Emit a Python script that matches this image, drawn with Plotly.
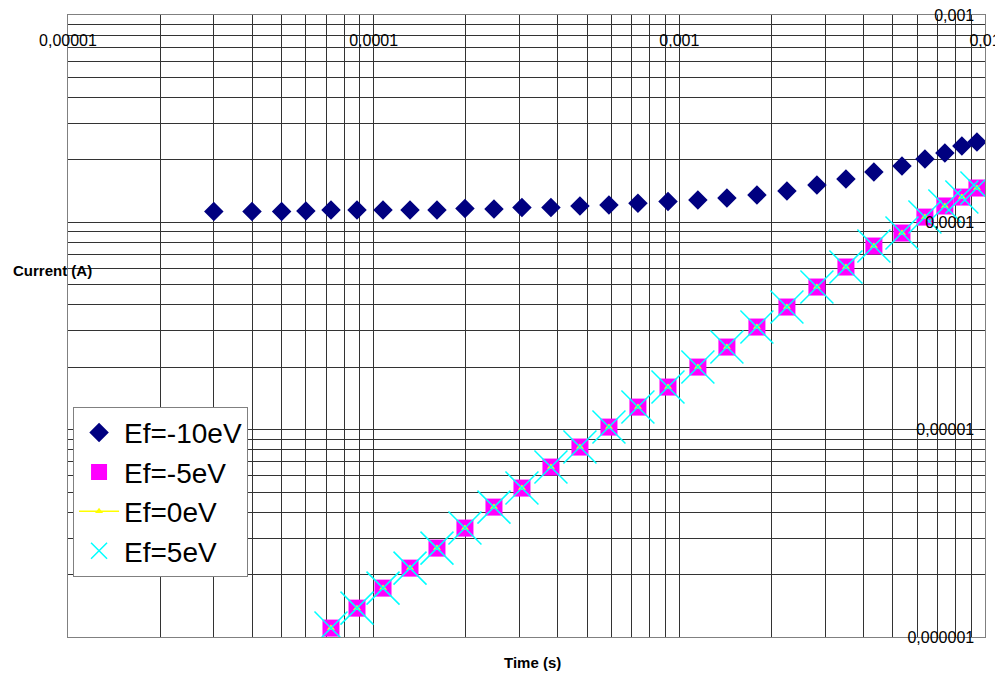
import plotly.graph_objects as go

# ---- data ----
time_s = [3.0e-5, 4.0e-5, 5.0e-5, 6.0e-5, 7.25e-5, 8.82e-5, 1.073e-4, 1.315e-4,
          1.611e-4, 1.989e-4, 2.475e-4, 3.056e-4, 3.802e-4, 4.73e-4, 5.885e-4,
          7.32e-4, 9.18e-4, 1.15e-3, 1.431e-3, 1.794e-3, 2.249e-3, 2.819e-3,
          3.508e-3, 4.33e-3, 5.35e-3, 6.36e-3, 7.39e-3, 8.40e-3, 9.41e-3]

i_ef_m10 = [1.128e-4, 1.128e-4, 1.128e-4, 1.134e-4, 1.146e-4, 1.146e-4, 1.146e-4, 1.146e-4,
            1.146e-4, 1.165e-4, 1.159e-4, 1.180e-4, 1.180e-4, 1.199e-4, 1.213e-4,
            1.237e-4, 1.259e-4, 1.281e-4, 1.310e-4, 1.354e-4, 1.416e-4, 1.513e-4,
            1.620e-4, 1.748e-4, 1.869e-4, 2.020e-4, 2.159e-4, 2.334e-4, 2.440e-4]

time_s2 = time_s[4:]

i_ef_m5 = [1.104e-6, 1.378e-6, 1.721e-6, 2.149e-6, 2.684e-6, 3.352e-6, 4.232e-6,
           5.228e-6, 6.601e-6, 8.244e-6, 1.029e-5, 1.285e-5, 1.605e-5, 2.004e-5,
           2.503e-5, 3.126e-5, 3.904e-5, 4.875e-5, 6.088e-5, 7.685e-5, 8.88e-5,
           1.060e-4, 1.199e-4, 1.324e-4, 1.464e-4]
i_ef_0 = [1.104e-6, 1.378e-6, 1.721e-6, 2.149e-6, 2.684e-6, 3.352e-6, 4.232e-6,
          5.228e-6, 6.601e-6, 8.244e-6, 1.029e-5, 1.285e-5, 1.605e-5, 2.004e-5,
          2.503e-5, 3.126e-5, 3.904e-5, 4.875e-5, 6.088e-5, 7.685e-5, 8.88e-5,
          1.060e-4, 1.199e-4, 1.324e-4, 1.464e-4]
i_ef_5 = [1.104e-6, 1.378e-6, 1.721e-6, 2.149e-6, 2.684e-6, 3.352e-6, 4.232e-6,
          5.228e-6, 6.601e-6, 8.244e-6, 1.029e-5, 1.285e-5, 1.605e-5, 2.004e-5,
          2.503e-5, 3.126e-5, 3.904e-5, 4.875e-5, 6.088e-5, 7.685e-5, 8.88e-5,
          1.060e-4, 1.199e-4, 1.324e-4, 1.464e-4]

x_tickvals = [1e-5, 1e-4, 1e-3, 1e-2]
x_ticktext = ["0,00001", "0,0001", "0,001", "0,01"]
y_tickvals = [1e-6, 1e-5, 1e-4, 1e-3]
y_ticktext = ["0,000001", "0,00001", "0,0001", "0,001"]

series_names = ["Ef=-10eV", "Ef=-5eV", "Ef=0eV", "Ef=5eV"]

FONT = "Liberation Sans, Arial, sans-serif"
GRID = "#333333"

x_minor = [k * 10.0 ** e for e in range(-5, -2) for k in range(2, 10)]
y_minor = [k * 10.0 ** e for e in range(-6, -3) for k in range(2, 10)]

fig = go.Figure()
fig.add_trace(go.Scatter(x=time_s, y=i_ef_m10, mode="markers", name=series_names[0],
                         marker=dict(symbol="diamond", size=15, color="#000080")))
fig.add_trace(go.Scatter(x=time_s2, y=i_ef_m5, mode="markers", name=series_names[1],
                         marker=dict(symbol="square", size=17, color="#FF00FF")))
fig.add_trace(go.Scatter(x=time_s2, y=i_ef_0, mode="markers", name=series_names[2],
                         legendgroup="ef0", showlegend=False,
                         marker=dict(symbol="triangle-up", size=7, color="#FFFF00")))
# legend entry for Ef=0eV (line + marker, as in the reference legend)
fig.add_trace(go.Scatter(x=[None], y=[None], mode="lines+markers", name=series_names[2],
                         legendgroup="ef0",
                         line=dict(color="#FFFF00", width=1.5),
                         marker=dict(symbol="triangle-up", size=7, color="#FFFF00")))
fig.add_trace(go.Scatter(x=time_s2, y=i_ef_5, mode="markers", name=series_names[3],
                         marker=dict(symbol="x-thin", size=33,
                                     line=dict(color="#00FFFF", width=1.5))))

fig.update_xaxes(type="log", range=[-5, -2], side="top", automargin=False,
                 tickmode="array", tickvals=x_tickvals, ticktext=x_ticktext,
                 ticklabelposition="inside", ticklabelstandoff=20, ticklabeloverflow="allow",
                 ticks="", showgrid=True, gridcolor=GRID, gridwidth=1,
                 showline=True, linecolor="#808080", linewidth=1, mirror=True,
                 zeroline=False,
                 minor=dict(tickmode="array", tickvals=x_minor, showgrid=True,
                            gridcolor=GRID, gridwidth=1, ticks=""),
                 tickfont=dict(family=FONT, size=16, color="#000000"))
fig.update_yaxes(type="log", range=[-6, -3], side="right", automargin=False,
                 tickmode="array", tickvals=y_tickvals, ticktext=y_ticktext,
                 ticklabelposition="inside", ticklabelstandoff=6, ticklabeloverflow="allow",
                 ticks="inside", ticklen=5, tickcolor="#000000",
                 showgrid=True, gridcolor=GRID, gridwidth=1,
                 showline=True, linecolor="#808080", linewidth=1, mirror=True,
                 zeroline=False,
                 minor=dict(tickmode="array", tickvals=y_minor, showgrid=True,
                            gridcolor=GRID, gridwidth=1, ticks=""),
                 tickfont=dict(family=FONT, size=16, color="#000000"))

fig.add_annotation(text="<b>Current (A)</b>", xref="paper", yref="paper",
                   x=-0.0174, y=0.59, xanchor="center", yanchor="middle", showarrow=False,
                   font=dict(family=FONT, size=15, color="#000000"))
fig.add_annotation(text="<b>Time (s)</b>", xref="paper", yref="paper",
                   x=0.506, y=-0.0418, xanchor="center", yanchor="middle", showarrow=False,
                   font=dict(family=FONT, size=15, color="#000000"))

fig.update_layout(
    width=995, height=669,
    margin=dict(l=60, r=18, t=7, b=40, autoexpand=False),
    paper_bgcolor="#FFFFFF", plot_bgcolor="#FFFFFF",
    font=dict(family=FONT, color="#000000"),
    legend=dict(x=0.0055, y=0.37, xanchor="left", yanchor="top",
                bgcolor="#FFFFFF", bordercolor="#808080", borderwidth=1,
                itemwidth=40,
                font=dict(family=FONT, size=28, color="#000000"),
                tracegroupgap=0),
)

fig.write_html("out.html")
